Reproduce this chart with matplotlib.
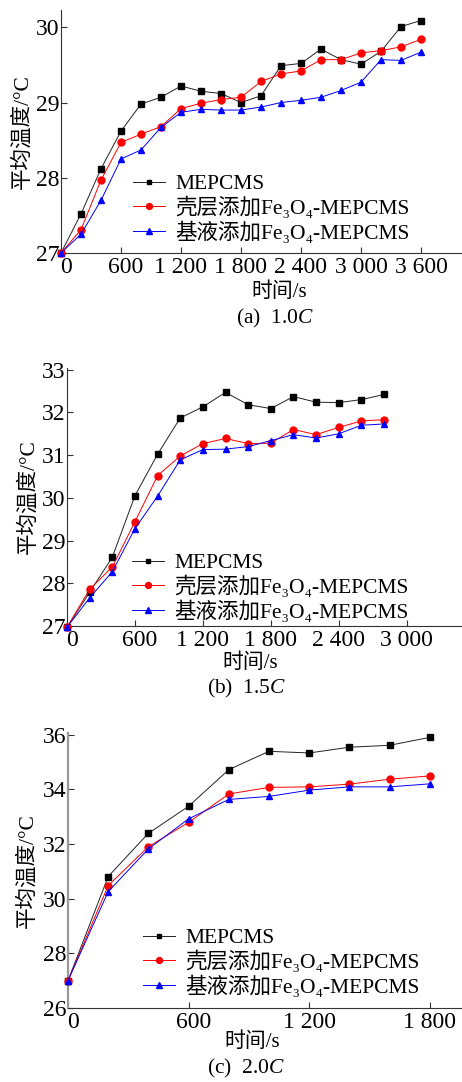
import numpy as np
import matplotlib
matplotlib.use('Agg')
import matplotlib.pyplot as plt
from matplotlib.transforms import ScaledTranslation

plt.rcParams['font.family'] = ['Liberation Serif', 'DejaVu Serif', 'Noto Sans CJK SC']
plt.rcParams['mathtext.fontset'] = 'custom'
plt.rcParams['mathtext.rm'] = 'Liberation Serif'
plt.rcParams['mathtext.it'] = 'Liberation Serif:italic'

# series names
names = ['MEPCMS', '壳层添加Fe₃O₄-MEPCMS', '基液添加Fe₃O₄-MEPCMS']

# (a) 1.0C
tA = list(range(0, 3601, 200))
a_mep = [27.0, 27.52, 28.12, 28.62, 28.98, 29.07, 29.22, 29.15, 29.12, 29.0,
         29.09, 29.49, 29.52, 29.71, 29.57, 29.51, 29.68, 30.01, 30.09]
a_shell = [27.0, 27.31, 27.97, 28.47, 28.58, 28.68, 28.92, 28.99, 29.04, 29.07,
           29.28, 29.38, 29.42, 29.57, 29.57, 29.66, 29.69, 29.74, 29.84]
a_base = [27.0, 27.25, 27.70, 28.25, 28.37, 28.67, 28.87, 28.91, 28.90, 28.90,
          28.94, 29.0, 29.03, 29.07, 29.16, 29.27, 29.57, 29.56, 29.67]

# (b) 1.5C
tB = list(range(0, 2801, 200))
b_mep = [26.97, 27.79, 28.61, 30.05, 31.02, 31.87, 32.13, 32.47, 32.18, 32.09,
         32.37, 32.24, 32.23, 32.30, 32.42]
b_shell = [26.97, 27.86, 28.38, 29.44, 30.52, 30.98, 31.27, 31.39, 31.27, 31.28,
           31.60, 31.48, 31.65, 31.80, 31.83]
b_base = [26.97, 27.66, 28.27, 29.28, 30.04, 30.89, 31.13, 31.14, 31.20, 31.34,
          31.48, 31.40, 31.50, 31.70, 31.73]

# (c) 2.0C
tC = list(range(0, 1801, 200))
c_mep = [27.0, 30.81, 32.39, 33.38, 34.72, 35.39, 35.33, 35.54, 35.61, 35.90]
c_shell = [27.0, 30.48, 31.90, 32.79, 33.83, 34.07, 34.09, 34.19, 34.37, 34.49]
c_base = [27.0, 30.26, 31.82, 32.92, 33.63, 33.74, 33.97, 34.09, 34.09, 34.20]

xticksA = [0, 600, 1200, 1800, 2400, 3000, 3600]
xticksB = [0, 600, 1200, 1800, 2400, 3000]
xticksC = [0, 600, 1200, 1800]


def fmt(v):
    # thousands separated by a space, as in the original
    s = str(v)
    if len(s) > 3:
        s = s[:-3] + ' ' + s[-3:]
    return s


W, H = 462, 1082
fig = plt.figure(figsize=(W / 100, H / 100), dpi=100)


def panel(left, top, bottom, t, series, xlim, ylim, xticks, yticks, caption,
          leg_xy, xlab, cap, ylab_x, yspine_col='#333333'):
    ax = fig.add_axes([left / W, 1 - bottom / H, (W - 1 - left) / W, (bottom - top) / H])
    styles = [('black', 's', 4.2, '#222222'), ('red', 'o', 5.0, 'red'), ('blue', '^', 5.0, 'blue')]
    for y, nm, (mc, mk, ms, lc) in zip(series, names, styles):
        ax.plot(t, y, color=lc, lw=0.7, marker=mk, ms=ms, mfc=mc, mec=mc,
                label=nm, clip_on=False, zorder=3)
    ax.set_xlim(*xlim)
    ax.set_ylim(*ylim)
    ax.set_xticks(xticks)
    ax.set_xticklabels([fmt(v) for v in xticks])
    ax.set_yticks(yticks)
    for s in ['top', 'right']:
        ax.spines[s].set_visible(False)
    ax.spines['left'].set_color(yspine_col)
    ax.spines['bottom'].set_color('#333333')
    if yspine_col != '#333333':
        ax.spines['left'].set_linewidth(1.6)
    ax.tick_params(direction='in', length=4, width=0.8, labelsize=17, colors='#333333',
                   labelcolor='black')
    ax.tick_params(axis='x', pad=3)
    ax.tick_params(axis='y', pad=1)
    # short labels sit a little right of their ticks in the original
    for lab, v in zip(ax.get_xticklabels(), xticks):
        if v < 1000:
            lab.set_transform(lab.get_transform() + ScaledTranslation(0.05, 0, fig.dpi_scale_trans))
    ax.legend(loc='upper left', bbox_to_anchor=(leg_xy[0] / W, 1 - leg_xy[1] / H),
              bbox_transform=fig.transFigure, frameon=False, fontsize=15.5,
              handlelength=1.5, handletextpad=0.45, labelspacing=0.12,
              borderaxespad=0, borderpad=0, markerscale=0.85)
    fig.text(xlab[0] / W, 1 - xlab[1] / H, '时间/s', fontsize=15,
             ha='center', va='center')
    fig.text(cap[0] / W, 1 - cap[1] / H, caption, fontsize=15.5,
             ha='center', va='center')
    fig.text(ylab_x / W, 1 - (bottom + top) / 2 / H, '平均温度/°C', fontsize=15.5,
             rotation=90, ha='center', va='center')
    return ax


panel(61, 10, 253, tA, [a_mep, a_shell, a_base], (0, 4000), (27, 30.23),
      xticksA, [27, 28, 29, 30], '(a)  1.0$\\mathit{C}$', (133, 174), (279, 292), (275, 318), 22)
panel(67, 368, 626, tB, [b_mep, b_shell, b_base], (0, 3480), (27, 33.04),
      xticksB, [27, 28, 29, 30, 31, 32, 33], '(b)  1.5$\\mathit{C}$', (132, 553), (250, 663), (247, 688), 28)
panel(68, 733, 1008, tC, [c_mep, c_shell, c_base], (0, 1955), (26, 36.06),
      xticksC, [26, 28, 30, 32, 34, 36], '(c)  2.0$\\mathit{C}$', (143, 928), (252, 1042), (246, 1068), 27,
      yspine_col='#999999')

fig.savefig('out.png', dpi=100)
